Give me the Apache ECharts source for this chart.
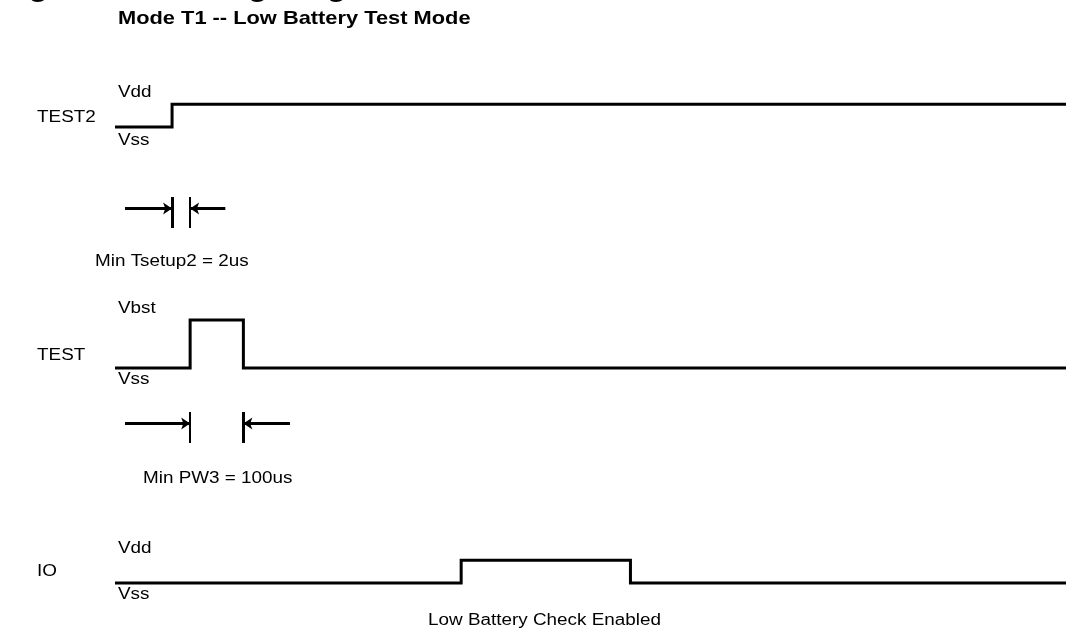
<!DOCTYPE html>
<html>
<head>
<meta charset="utf-8">
<script src="https://cdn.jsdelivr.net/npm/echarts@6/dist/echarts.min.js"></script>
<style>
  html, body { margin: 0; background: #fff; }
  #chart { width: 1066px; height: 628px; }
</style>
</head>
<body>
<div id="chart"></div>
<script>
// time runs 0..100 (arbitrary units) from the left end of the traces to the right edge
const T_END = 100
const VSS = 0, VDD = 1, VBST = 2.1

// waveforms: time of each change and the level it goes to
const test2Times  = [0, 6.0, T_END]
const test2Levels = [VSS, VDD, VDD]
const testTimes   = [0, 7.9, 13.5, T_END]
const testLevels  = [VSS, VBST, VSS, VSS]
const ioTimes     = [0, 36.4, 54.2, T_END]
const ioLevels    = [VSS, VDD, VSS, VSS]

// timing markers: bar positions and arrows [from, to]
const tsetupBars   = [6.0, 7.9]
const tsetupArrows = [[1.05, 6.0], [11.6, 7.9]]
const pwBars       = [7.9, 13.5]
const pwArrows     = [[1.05, 7.9], [18.4, 13.5]]
const ARROW_LEVEL  = 0.63

const STRETCH = 1.18
const FONT = 'Liberation Sans, Arial, sans-serif'

const chart = echarts.init(document.getElementById('chart'), null, { renderer: 'canvas' })

const toPairs = (ts, ls) => ts.map((t, i) => [t, ls[i]])

function txt(text, x, y, opt = {}) {
  return {
    type: 'text', x, y, scaleX: STRETCH,
    style: {
      text, fill: '#000', fontFamily: FONT,
      fontSize: opt.size || 16, fontWeight: opt.weight || 'normal',
      verticalAlign: opt.va || 'middle'
    }
  }
}

const grids = [
  { left: 115, right: 0, top: 79,  height: 48 },  // TEST2
  { left: 115, right: 0, top: 320, height: 48 },  // TEST
  { left: 115, right: 0, top: 535, height: 48 },  // IO
  { left: 115, right: 0, top: 197, height: 31 },  // Tsetup2 marker
  { left: 115, right: 0, top: 412, height: 31 },  // PW3 marker
]

const xAxes = grids.map((g, i) => ({ type: 'value', gridIndex: i, min: 0, max: T_END, show: false }))
const yAxes = grids.map((g, i) => ({ type: 'value', gridIndex: i, min: 0, max: i < 3 ? VBST : 1, show: false }))

function wave(idx, ts, ls) {
  return {
    type: 'line', xAxisIndex: idx, yAxisIndex: idx, step: 'end',
    data: toPairs(ts, ls), showSymbol: false, clip: false, silent: true,
    lineStyle: { color: '#000', width: 3, join: 'miter', cap: 'butt' }
  }
}

function bars(idx, xs, widths) {
  return {
    type: 'lines', coordinateSystem: 'cartesian2d', xAxisIndex: idx, yAxisIndex: idx,
    symbol: 'none', silent: true,
    data: xs.map((x, i) => ({ coords: [[x, 0], [x, 1]], lineStyle: { width: widths[i] } })),
    lineStyle: { color: '#000', opacity: 1, curveness: 0 }
  }
}

function arrows(idx, list) {
  return {
    type: 'lines', coordinateSystem: 'cartesian2d', xAxisIndex: idx, yAxisIndex: idx,
    symbol: ['none', 'arrow'], symbolSize: [8, 9], silent: true,
    data: list.map(a => ({ coords: [[a[0], ARROW_LEVEL], [a[1], ARROW_LEVEL]] })),
    lineStyle: { color: '#000', width: 3, opacity: 1, curveness: 0 }
  }
}

chart.setOption({
  backgroundColor: '#fff',
  animation: false,
  grid: grids,
  xAxis: xAxes,
  yAxis: yAxes,
  series: [
    wave(0, test2Times, test2Levels),
    wave(1, testTimes, testLevels),
    wave(2, ioTimes, ioLevels),
    bars(3, tsetupBars, [3, 2]),
    arrows(3, tsetupArrows),
    bars(4, pwBars, [2, 3]),
    arrows(4, pwArrows),
  ],
  graphic: [
    // heading of the page, cut off by the top edge
    { ...txt('Figure 12: Timing Diagram', 0, 2.5, { size: 28, weight: 'bold', va: 'bottom' }), scaleX: 1.15 },
    txt('Mode T1 -- Low Battery Test Mode', 118, 19, { size: 18.5, weight: 'bold' }),

    txt('Vdd', 118, 93),
    txt('TEST2', 37, 118),
    txt('Vss', 118, 141),
    txt('Min Tsetup2 = 2us', 95, 262),

    txt('Vbst', 118, 309),
    txt('TEST', 37, 356),
    txt('Vss', 118, 380),
    txt('Min PW3 = 100us', 143, 479),

    txt('Vdd', 118, 549),
    txt('IO', 37, 572),
    txt('Vss', 118, 595),
    txt('Low Battery Check Enabled', 428, 621),
  ]
})
</script>
</body>
</html>
